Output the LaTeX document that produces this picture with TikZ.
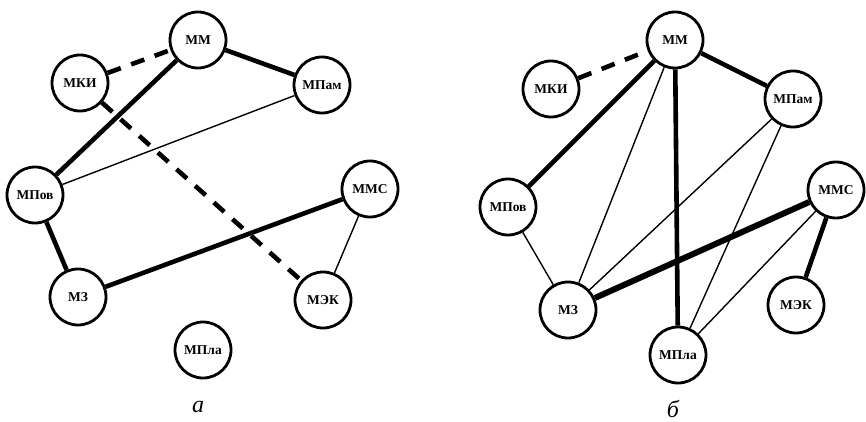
\documentclass[tikz,border=0pt]{standalone}
\usepackage{fontspec}
\setmainfont{Liberation Serif}
\tikzset{
  mnode/.style={circle,draw,line width=2.8pt,minimum size=56pt,inner sep=0pt,
    font=\bfseries\fontsize{13.5}{13.5}\selectfont},
  weak/.style={line width=1.4pt},
  strong/.style={line width=4.6pt},
  verystrong/.style={line width=6pt},
  dashedlink/.style={line width=4.6pt,dash pattern=on 14pt off 11pt},
  caption/.style={font=\itshape\fontsize{24}{24}\selectfont}
}
\begin{document}
\begin{tikzpicture}[x=1pt,y=1pt]
  \useasboundingbox (0,0) rectangle (866,421);
  % panel a
  \foreach \n/\x/\y/\t in {aMM/198/381/ММ, aMKI/80/338/МКИ, aMPam/322/336/МПам,
      aMPov/35/226/МПов, aMMS/370/232/ММС, aMZ/78/124/МЗ, aMEK/323/121/МЭК,
      aMPla/203/71/МПла}
    \node[mnode] (\n) at (\x,\y) {\t};
  \node[caption] (acap) at (198,14) {а};
  \foreach \s/\e/\st in {aMKI/aMM/dashedlink, aMKI/aMEK/dashedlink, aMM/aMPam/strong,
      aMM/aMPov/strong, aMPam/aMPov/weak, aMPov/aMZ/strong, aMZ/aMMS/strong,
      aMMS/aMEK/weak}
    \draw[\st] (\s) -- (\e);
  % panel b
  \foreach \n/\x/\y/\t in {bMM/675/381/ММ, bMKI/551/332/МКИ, bMPam/793/322/МПам,
      bMPov/508/214/МПов, bMMS/836/231/ММС, bMZ/568/111/МЗ, bMEK/796/116/МЭК,
      bMPla/678/66/МПла}
    \node[mnode] (\n) at (\x,\y) {\t};
  \node[caption] (bcap) at (673,12) {б};
  \foreach \s/\e/\st in {bMKI/bMM/dashedlink, bMM/bMPam/strong, bMM/bMPov/strong,
      bMM/bMZ/weak, bMM/bMPla/strong, bMPam/bMZ/weak, bMPam/bMPla/weak,
      bMPov/bMZ/weak, bMZ/bMMS/verystrong, bMMS/bMPla/weak, bMMS/bMEK/strong}
    \draw[\st] (\s) -- (\e);
\end{tikzpicture}
\end{document}
